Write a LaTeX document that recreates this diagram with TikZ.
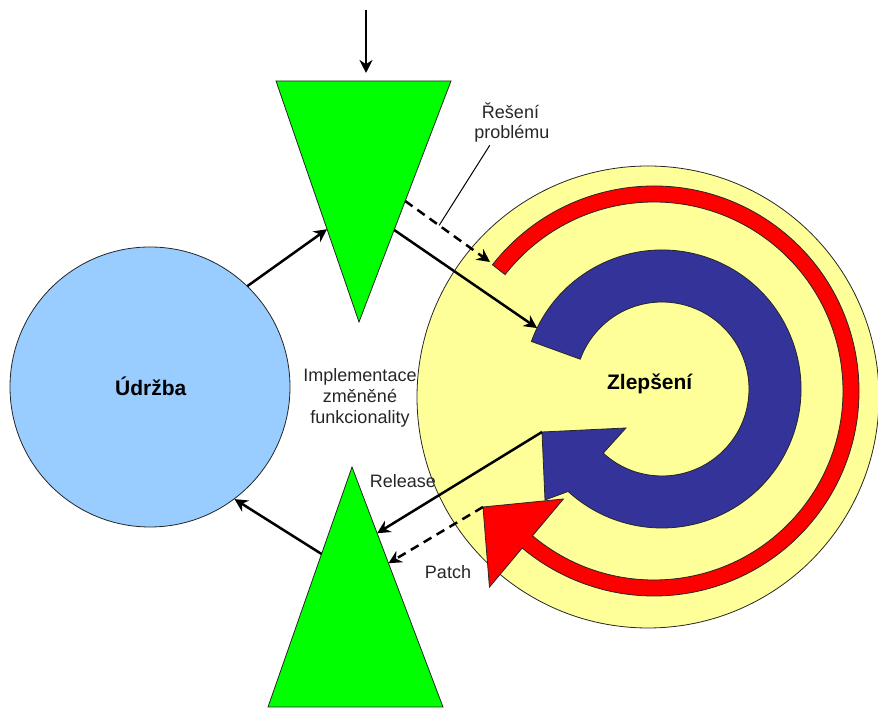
\documentclass[tikz,border=0pt]{standalone}
\usepackage{fontspec}
\setmainfont{Liberation Sans}
\usetikzlibrary{arrows.meta,calc}
\definecolor{triGreen}{HTML}{00FF00}
\definecolor{maintBlue}{HTML}{99CCFF}
\definecolor{improveYellow}{HTML}{FFFF99}
\definecolor{bandBlue}{HTML}{333399}
\definecolor{bandRed}{HTML}{FF0000}
\begin{document}
\begin{tikzpicture}[x=1pt,y=1pt,
  outline/.style={draw=black!85,line width=0.8pt},
  flow/.style={line width=2.5pt,-{Stealth[length=13pt,width=13pt]}},
  dflow/.style={flow,dash pattern=on 9pt off 6pt},
  leader/.style={line width=1pt},
  lbl/.style={font=\fontsize{18}{21}\selectfont,text=black!85,anchor=base,inner sep=0pt},
  title/.style={font=\fontsize{21}{25}\selectfont\bfseries,anchor=base,inner sep=0pt}]
\useasboundingbox (0,0) rectangle (878,708);

% improvement disc
\node[circle,outline,fill=improveYellow,minimum size=462pt,inner sep=0pt] (zlepseni) at (648,311) {};

% outer red arc with arrowhead
\coordinate (rc) at (654,317);
\coordinate (redtip) at (483,201);
\filldraw[outline,fill=bandRed] ($(rc)+(142:205)$) arc[start angle=142,end angle=-130,radius=205]
  -- ($(rc)+(-130:256)$) -- (redtip) -- ($(rc)+(-130:141)$) -- ($(rc)+(-130:189)$)
  arc[start angle=-130,end angle=142,radius=189] -- cycle;

% inner blue arc with arrowhead
\coordinate (bc) at (662,319);
\coordinate (bluetip) at (542,276);
\filldraw[outline,fill=bandBlue] ($(bc)+(160:139)$) arc[start angle=160,end angle=-132.5,radius=139]
  -- (545,208) -- (bluetip) -- (626,280) -- ($(bc)+(-132.5:87)$)
  arc[start angle=-132.5,end angle=160,radius=87] -- cycle;

% green funnels
\coordinate (t1) at (276,627);
\coordinate (t2) at (451,627);
\coordinate (t3) at (359,386);
\filldraw[outline,fill=triGreen] (t1) -- (t2) -- (t3) -- cycle;
\coordinate (b1) at (352,241);
\coordinate (b2) at (268,1);
\coordinate (b3) at (443,1);
\filldraw[outline,fill=triGreen] (b1) -- (b2) -- (b3) -- cycle;

% maintenance disc
\node[circle,outline,fill=maintBlue,minimum size=280pt,inner sep=0pt] (udrzba) at (150,321) {};

% connector end points
\coordinate (input) at (366,698);
\coordinate (tin) at ($(t1)!0.615!(t3)$);
\coordinate (tout) at ($(t2)!0.618!(t3)$);
\coordinate (tdash) at ($(t2)!0.498!(t3)$);
\coordinate (bluein) at ($(bc)+(154:139)$);
\coordinate (redin) at (490,446);
\coordinate (brel) at ($(b1)!0.276!(b3)$);
\coordinate (bpatch) at ($(b1)!0.401!(b3)$);
\coordinate (bout) at ($(b1)!0.3625!(b2)$);
\coordinate (noteend) at ($(tdash)!0.40!(redin)$);

% connectors
\draw[flow] (input) -- ($(t1 -| input)+(0,8)$);
\draw[flow] (udrzba.46) -- (tin);
\draw[flow] (tout) -- (bluein);
\draw[dflow] (tdash) -- (redin);
\draw[flow] (bluetip) -- (brel);
\draw[dflow] (redtip) -- (bpatch);
\draw[flow] (bout) -- (udrzba.-53.6);

% labels
\node[title] (lu) at (150.8,312.3) {Údržba};
\node[title] (lz) at (649.7,318) {Zlepšení};
\node[lbl] (res1) at (510.5,589.7) {Řešení};
\node[lbl] (res2) at (511.8,569.7) {problému};
\draw[leader] (res2.south) ++(-22,-3) coordinate (notestart) -- (noteend);
\node[lbl] (imp1) at (360,326.3) {Implementace};
\node[lbl] (imp2) at (360,305.3) {změněné};
\node[lbl] (imp3) at (360,284.7) {funkcionality};
\node[lbl] (rel) at (402.8,220.7) {Release};
\node[lbl] (pat) at (448,129.7) {Patch};
\end{tikzpicture}
\end{document}
